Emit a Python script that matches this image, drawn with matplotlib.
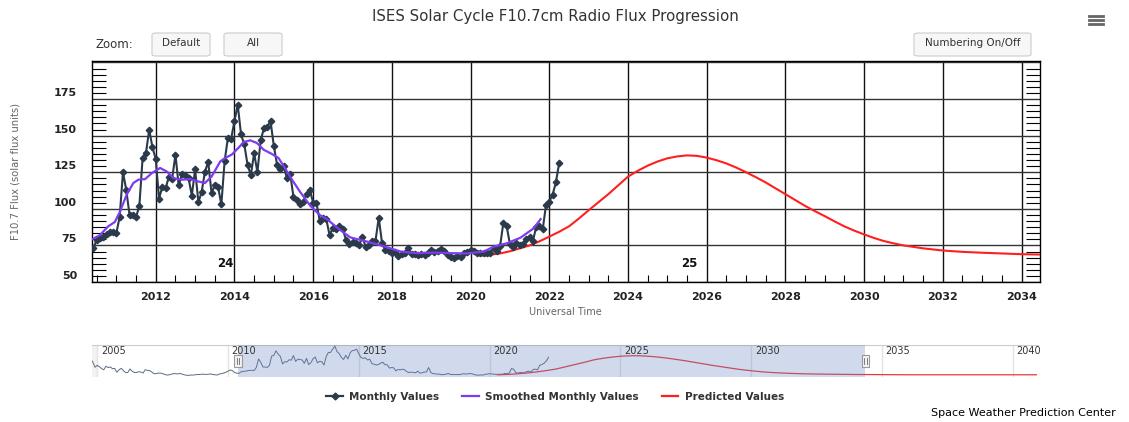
import numpy as np
import matplotlib.pyplot as plt
from matplotlib.patches import FancyBboxPatch, Rectangle
from matplotlib.lines import Line2D
from matplotlib.ticker import MultipleLocator, AutoMinorLocator
import matplotlib.transforms as mtransforms

# observed monthly F10.7, Oct 2004 .. May 2010 (only visible in the navigator)
early_start = 2004 + 9 / 12
early_flux = [125, 113, 95,
              102, 97, 90, 86, 99, 94, 96, 90, 91, 77, 86, 91,
              83, 76, 76, 89, 81, 76, 76, 79, 78, 74, 86, 84,
              83, 78, 72, 72, 74, 74, 72, 69, 67, 68, 70, 72,
              72, 71, 73, 70, 68, 66, 66, 67, 67, 68, 69, 69,
              70, 70, 69, 70, 71, 69, 68, 67, 71, 72, 74, 77,
              81, 85, 83, 76, 74]

# observed monthly F10.7, Jun 2010 .. Apr 2022
monthly_start = 2010 + 5 / 12
monthly_flux = [73, 79, 80, 81, 82.5, 84, 84,
                83.5, 94.6, 125, 113, 96, 96, 94.5, 102, 135, 138, 154, 142,
                134, 107, 115, 114, 122, 120.5, 137, 116, 124, 123, 121, 109,
                127, 104.5, 111.5, 125.5, 132, 111, 116, 115, 103, 132.5, 148.5, 148,
                160, 171, 151, 144, 130, 123, 138, 125, 147, 155, 156, 160,
                143, 130, 127, 129, 121, 124, 108, 106, 103, 105, 110, 113,
                104, 104, 92, 94, 93, 82, 87, 86, 88, 86, 79, 76,
                77.5, 76.5, 75, 81, 74, 75, 78, 78, 94, 76.5, 72, 71.5,
                70, 70.5, 68, 69, 70, 73, 69, 69, 68.5, 69, 68.5, 70,
                72, 70.5, 71.5, 72.5, 71.5, 68.5, 67, 66.5, 67.5, 67, 70, 70.5,
                72, 71, 70, 69.5, 69.5, 70, 70, 73, 71.5, 74.5, 90.5, 88,
                76, 74, 76.5, 75, 76, 79.5, 81, 78, 87.5, 88, 86, 102.5,
                105, 109.5, 118, 131]

# smoothed monthly values
smooth_years = [2010.37, 2010.58, 2010.79, 2010.96, 2011.09, 2011.26, 2011.43,
                2011.56, 2011.73, 2011.9, 2012.11, 2012.28, 2012.45, 2012.66,
                2012.87, 2013.08, 2013.25, 2013.42, 2013.64, 2013.76, 2013.93,
                2014.1, 2014.23, 2014.4, 2014.57, 2014.74, 2014.95, 2015.12,
                2015.29, 2015.46, 2015.67, 2015.93, 2016.18, 2016.35, 2016.6,
                2016.94, 2017.37, 2017.79, 2018.22, 2018.64, 2019.06, 2019.49,
                2019.91, 2020.34, 2020.59, 2020.93, 2021.27, 2021.61, 2021.78]
smooth_flux = [79, 82, 88, 91, 98, 109.6, 117.6,
               119.9, 120.3, 124.4, 127.9, 125.5, 121, 119.9,
               120.3, 118.7, 117.6, 122.1, 132.4, 134.7, 137,
               141.6, 145.5, 146.8, 145, 140.4, 137.5, 134.7,
               127.5, 120, 111.5, 102, 95.5, 93, 87.3,
               80.5, 77.6, 74.5, 70.8, 69.7, 70.1, 69.7,
               69.5, 70.8, 74.2, 76.5, 80.3, 86.8, 93]

# predicted values (cycle 25)
pred_years = [2020.3, 2020.75, 2021.0, 2021.25, 2021.5, 2021.75, 2022.0, 2022.25,
              2022.5, 2022.75, 2023.0, 2023.25, 2023.5, 2023.75, 2024.0, 2024.25,
              2024.5, 2024.75, 2025.0, 2025.25, 2025.5, 2025.75, 2026.0, 2026.25,
              2026.5, 2026.75, 2027.0, 2027.25, 2027.5, 2027.75, 2028.0, 2028.25,
              2028.5, 2028.75, 2029.0, 2029.25, 2029.5, 2029.75, 2030.0, 2030.25,
              2030.5, 2030.75, 2031.0, 2031.5, 2032.0, 2032.5, 2033.0, 2034.0,
              2035.0, 2036.0, 2038.0, 2040.9]
pred_flux = [68, 69.5, 71, 73, 75, 77.8, 81, 84.3,
             88, 93.3, 99, 104.5, 110, 116, 122, 126,
             129.5, 132.3, 134.5, 135.8, 136.5, 136.2, 135, 133.2,
             131, 128.2, 125, 121.6, 118, 114, 110, 106,
             102, 98.4, 95, 91.4, 88, 85.1, 82.5, 80.1,
             78, 76.4, 75, 73, 71.5, 70.6, 70, 69,
             68.5, 68, 68, 68]

cycle_labels = ["24", "25"]

early_years = early_start + np.arange(len(early_flux)) / 12
monthly_years = monthly_start + np.arange(len(monthly_flux)) / 12

W, H = 1129, 422
fig = plt.figure(figsize=(W / 100, H / 100), dpi=100)


def fx(x):
    return x / W


def fy(y):
    return 1 - y / H


ink = '#2b3a4a'
purple = '#7d3cf0'
red = '#ff1f1f'

# ---- main chart ----
ax = fig.add_axes([fx(92), fy(282), fx(1040) - fx(92), fy(61) - fy(282)])
ax.plot(monthly_years, monthly_flux, color=ink, lw=1.5, marker='D', ms=3.3, zorder=4)
ax.plot(smooth_years, smooth_flux, color=purple, lw=1.6, zorder=5)
ax.plot(pred_years, pred_flux, color=red, lw=1.5, zorder=3)

ax.set_xlim(2010.38, 2034.47)
ax.set_ylim(50, 201)
ax.xaxis.set_major_locator(MultipleLocator(2))
ax.xaxis.set_minor_locator(MultipleLocator(0.5))
ax.yaxis.set_major_locator(MultipleLocator(25))
ax.yaxis.set_minor_locator(AutoMinorLocator(6))
ax.grid(True, axis='x', which='major', color='#111111', lw=1.0)
ax.grid(True, axis='y', which='major', color='#333333', lw=1.0)
ax.tick_params(axis='x', which='major', length=0, pad=7, labelsize=8,
               labelcolor='#222222')
ax.tick_params(axis='x', which='minor', direction='in', length=5, width=0.8,
               bottom=True, top=False)
ax.tick_params(axis='y', which='both', left=True, right=True, direction='in',
               labelleft=False)
ax.tick_params(axis='y', which='major', length=0)
ax.tick_params(axis='y', which='minor', length=10, width=0.8)
for lab in ax.get_xticklabels():
    lab.set_fontweight('bold')
for s in ax.spines.values():
    s.set_color('black')
    s.set_linewidth(1)

ylab_tr = mtransforms.offset_copy(ax.get_yaxis_transform(), fig=fig, x=-15, y=6, units='dots')
for v in range(50, 200, 25):
    ax.text(0, v, str(v), transform=ylab_tr, ha='right', va='center',
            fontsize=8, fontweight='bold', color='#222222')

ax.text(2013.77, 62.5, cycle_labels[0], ha='center', va='center', fontsize=8.5,
        fontweight='bold', color='#111111')
ax.text(2025.55, 62.5, cycle_labels[1], ha='center', va='center', fontsize=8.5,
        fontweight='bold', color='#111111')

# ---- navigator ----
nav = fig.add_axes([fx(92), fy(377), fx(1038) - fx(92), fy(345) - fy(377)])
nav.plot(np.concatenate([early_years, monthly_years]),
         np.concatenate([early_flux, monthly_flux]), color='#5d6c82', lw=0.7, zorder=3)
nav.plot(pred_years, pred_flux, color='#e8383d', lw=0.9, zorder=3)
nav.set_xlim(2004.8, 2040.96)
nav.set_ylim(60, 175)
nav.set_xticks([])
nav.set_yticks([])
for s in ['left', 'right', 'bottom']:
    nav.spines[s].set_visible(False)
nav.spines['top'].set_color('#cccccc')
nav.axvspan(2004.8, 2005.0, color='#f2f2f2', lw=0, zorder=0)
for yr in range(2005, 2041, 5):
    nav.axvline(yr, color='#e3e3e3', lw=1, zorder=1)
    nav.text(yr + 0.14, 0.8, str(yr), transform=nav.get_xaxis_transform(),
             ha='left', va='center', fontsize=7, color='#333333', zorder=6)
nav.axvspan(2010.38, 2034.36, color='#6685c2', alpha=0.3, lw=0, zorder=4)
for hx in [2010.38, 2034.36]:
    nav.add_patch(Rectangle((hx - 0.14, 0.31), 0.28, 0.38,
                            transform=nav.get_xaxis_transform(), facecolor='#f2f2f2',
                            edgecolor='#999999', lw=0.8, zorder=7))
    for dx in (-0.045, 0.045):
        nav.plot([hx + dx, hx + dx], [0.4, 0.6], transform=nav.get_xaxis_transform(),
                 color='#666666', lw=0.6, zorder=8)

# ---- legend ----
handles = [Line2D([], [], color=ink, lw=1.6, marker='D', ms=3.5),
           Line2D([], [], color=purple, lw=1.6),
           Line2D([], [], color=red, lw=1.6)]
leg = fig.legend(handles, ['Monthly Values', 'Smoothed Monthly Values', 'Predicted Values'],
                 loc='center', bbox_to_anchor=(fx(555), fy(397)), ncol=3, frameon=False,
                 prop={'weight': 'bold', 'size': 7.5}, handlelength=1.6,
                 columnspacing=2.2, handletextpad=0.6)
for t in leg.get_texts():
    t.set_color('#333333')

# ---- texts and buttons ----
fig.text(fx(555), fy(17), 'ISES Solar Cycle F10.7cm Radio Flux Progression',
         ha='center', va='center', fontsize=10.8, color='#333333')
fig.text(fx(16), fy(172), 'F10.7 Flux (solar flux units)', rotation=90,
         ha='center', va='center', fontsize=7.2, color='#666666')
fig.text(fx(565), fy(312), 'Universal Time', ha='center', va='center',
         fontsize=7, color='#666666')
fig.text(fx(1116), fy(413), 'Space Weather Prediction Center', ha='right',
         va='center', fontsize=8, color='black')
fig.text(fx(95), fy(45), 'Zoom:', ha='left', va='center', fontsize=8.5, color='#333333')

buttons = [('Default', 152, 210), ('All', 224, 282), ('Numbering On/Off', 914, 1031)]
for label, x0, x1 in buttons:
    fig.patches.append(FancyBboxPatch((fx(x0), fy(56)), fx(x1) - fx(x0), fy(33) - fy(56),
                                      boxstyle='round,pad=0,rounding_size=0.004',
                                      transform=fig.transFigure, facecolor='#f7f7f7',
                                      edgecolor='#cccccc', lw=0.8))
    fig.text(fx((x0 + x1) / 2), fy(43), label, ha='center', va='center',
             fontsize=7.5, color='#333333')

for yy in (16, 20, 24):
    fig.lines.append(Line2D([fx(1089), fx(1103)], [fy(yy), fy(yy)],
                            transform=fig.transFigure, color='#666666', lw=2))

fig.savefig('out.png', dpi=100)
